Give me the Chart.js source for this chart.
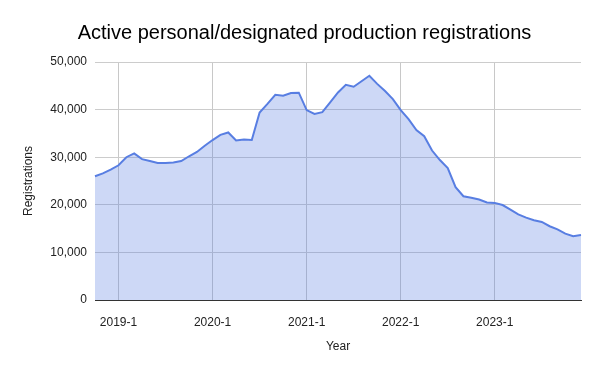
<!DOCTYPE html>
<html>
<head>
<meta charset="utf-8">
<script src="https://cdn.jsdelivr.net/npm/chart.js@4.4.1/dist/chart.umd.min.js"></script>
<style>
  html, body { margin: 0; padding: 0; background: #fff; }
  #wrap { width: 600px; height: 371px; }
</style>
</head>
<body>
<div id="wrap"><canvas id="chart"></canvas></div>
<script>
// Monthly points, 2018-10 .. 2023-12
const months = [];
for (let y = 2018; y <= 2023; y++) {
  for (let m = 1; m <= 12; m++) {
    if (y === 2018 && m < 10) continue;
    months.push(y + '-' + m);
  }
}

const registrations = [
  26000, 26600, 27400, 28300, 30000, 30800, 29600, 29200, 28800, 28800,
  28900, 29200, 30200, 31100, 32400, 33600, 34700, 35200, 33500, 33700,
  33600, 39400, 41200, 43100, 42900, 43500, 43550, 39900, 39100, 39450,
  41500, 43600, 45200, 44800, 45950, 47100, 45400, 43900, 42200, 39900,
  38000, 35700, 34400, 31400, 29400, 27700, 23700, 21800, 21500, 21100,
  20500, 20400, 19950, 19000, 18000, 17300, 16750, 16400, 15500, 14850,
  13950, 13400, 13650
];

const yTicks = [0, 10000, 20000, 30000, 40000, 50000];

const font = 'Liberation Sans, Arial, sans-serif';

const ctx = document.getElementById('chart').getContext('2d');
new Chart(ctx, {
  type: 'line',
  data: {
    labels: months,
    datasets: [{
      data: registrations,
      borderColor: 'rgb(88, 126, 226)',
      backgroundColor: 'rgba(88, 126, 226, 0.3)',
      borderWidth: 2,
      pointRadius: 0,
      tension: 0,
      fill: 'origin'
    }]
  },
  options: {
    responsive: true,
    maintainAspectRatio: false,
    animation: false,
    // left padding shifts the centred title to where the reference has it
    layout: { padding: { left: 28, right: 19, top: 0, bottom: 0 } },
    plugins: {
      legend: { display: false },
      tooltip: { enabled: false },
      title: {
        display: true,
        text: 'Active personal/designated production registrations',
        color: '#000',
        font: { family: font, size: 20, weight: 'normal' },
        padding: { top: 21, bottom: 17 }
      }
    },
    scales: {
      x: {
        offset: false,
        afterBuildTicks: scale => {
          scale.ticks = scale.ticks.filter(t => months[t.value].endsWith('-1'));
        },
        afterFit: scale => { scale.height = 71; },
        grid: { color: '#c8c8c8', drawTicks: false },
        border: { color: '#333333', width: 1 },
        ticks: {
          autoSkip: false,
          maxRotation: 0,
          padding: 15,
          color: '#222',
          font: { family: font, size: 12 },
          callback: function(value) { return this.getLabelForValue(value); }
        },
        title: {
          display: true,
          text: 'Year',
          color: '#222',
          font: { family: font, size: 12 },
          padding: { top: 0, bottom: 17 }
        }
      },
      y: {
        min: 0,
        max: 50000,
        afterBuildTicks: scale => {
          scale.ticks = yTicks.map(v => ({ value: v }));
        },
        afterFit: scale => { scale.width = 67; },
        grid: { color: '#cccccc', drawTicks: false },
        border: { display: false },
        ticks: {
          padding: 8,
          color: '#222',
          font: { family: font, size: 12 },
          callback: v => v.toLocaleString('en-US')
        },
        title: {
          display: true,
          text: 'Registrations',
          color: '#222',
          font: { family: font, size: 12 },
          padding: { top: -7, bottom: 0 }
        }
      }
    }
  }
});
</script>
</body>
</html>
